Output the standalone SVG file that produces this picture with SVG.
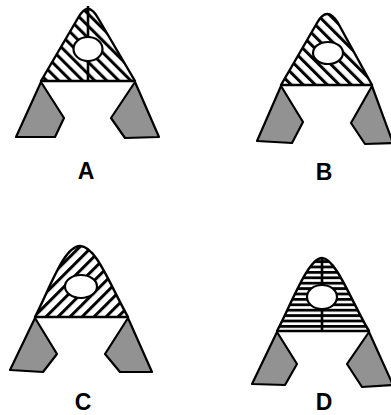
<svg xmlns="http://www.w3.org/2000/svg" width="391" height="415" viewBox="0 0 391 415">
<defs>
<pattern id="hb" patternUnits="userSpaceOnUse" width="8.5" height="8.5" patternTransform="rotate(-45)">
<rect x="0" y="0" width="8.5" height="8.5" fill="#fff"/>
<rect x="0" y="0" width="3" height="8.5" fill="#000"/>
</pattern>
<pattern id="hf" patternUnits="userSpaceOnUse" width="8.5" height="8.5" patternTransform="rotate(45)">
<rect x="0" y="0" width="8.5" height="8.5" fill="#fff"/>
<rect x="0" y="0" width="3" height="8.5" fill="#000"/>
</pattern>
<pattern id="hh" patternUnits="userSpaceOnUse" width="10" height="5.4" y="1">
<rect x="0" y="0" width="10" height="5.4" fill="#fff"/>
<rect x="0" y="0" width="10" height="2.8" fill="#000"/>
</pattern>
</defs>
<style>
.tri{stroke:#000;stroke-width:2.4;stroke-linejoin:round}
.hole{fill:#fff;stroke:#000;stroke-width:2.2}
.grey{fill:#929292;stroke:#000;stroke-width:2.2;stroke-linejoin:round}
.axis{stroke:#000;stroke-width:2.6}
.lbl{font-family:"Liberation Sans",Arial,sans-serif;font-weight:bold;font-size:23px;fill:#000;text-anchor:middle}
</style>
<rect width="391" height="415" fill="#fff"/>
<g id="figA">
<path class="tri" fill="url(#hb)" d="M41,81 L78,18 Q88,0 98,18 L135,81 Z"/>
<line class="axis" x1="88" y1="6" x2="88" y2="81"/>
<ellipse class="hole" cx="88" cy="49" rx="14.5" ry="12"/>
<polygon class="grey" points="41,82 64,118 55,137 16,137"/>
<polygon class="grey" points="135,82 111,118 125,138 159,137"/>
<text class="lbl" x="86" y="179">A</text>
</g>
<g id="figB">
<path class="tri" fill="url(#hb)" d="M281,85 L317,23 Q327,5 338,23 L372,85 Z"/>
<ellipse class="hole" cx="328" cy="53" rx="15" ry="11"/>
<polygon class="grey" points="281,86 303,122 292,143 257,141"/>
<polygon class="grey" points="372,86 351,123 365,144 393,143"/>
<text class="lbl" x="324" y="180">B</text>
</g>
<g id="figC">
<path class="tri" fill="url(#hf)" d="M35,317 C50,288 64,246 80,246 C96,246 110,285 128,317 Z"/>
<ellipse class="hole" cx="81" cy="286.5" rx="16" ry="11.5"/>
<polygon class="grey" points="35,318 57,354 43,372 10,370"/>
<polygon class="grey" points="128,318 105,354 120,372 152,372"/>
<text class="lbl" x="83" y="410">C</text>
</g>
<g id="figD">
<path class="tri" fill="url(#hh)" d="M277,331 C291,305 308,258 322,258 C336,258 353,305 369,331 Z"/>
<line class="axis" x1="322" y1="259" x2="322" y2="331"/>
<ellipse class="hole" cx="322" cy="297" rx="15" ry="12"/>
<polygon class="grey" points="277,332 297,364 285,385 252,384"/>
<polygon class="grey" points="369,332 347,364 362,387 393,385"/>
<text class="lbl" x="324" y="410">D</text>
</g>
</svg>
